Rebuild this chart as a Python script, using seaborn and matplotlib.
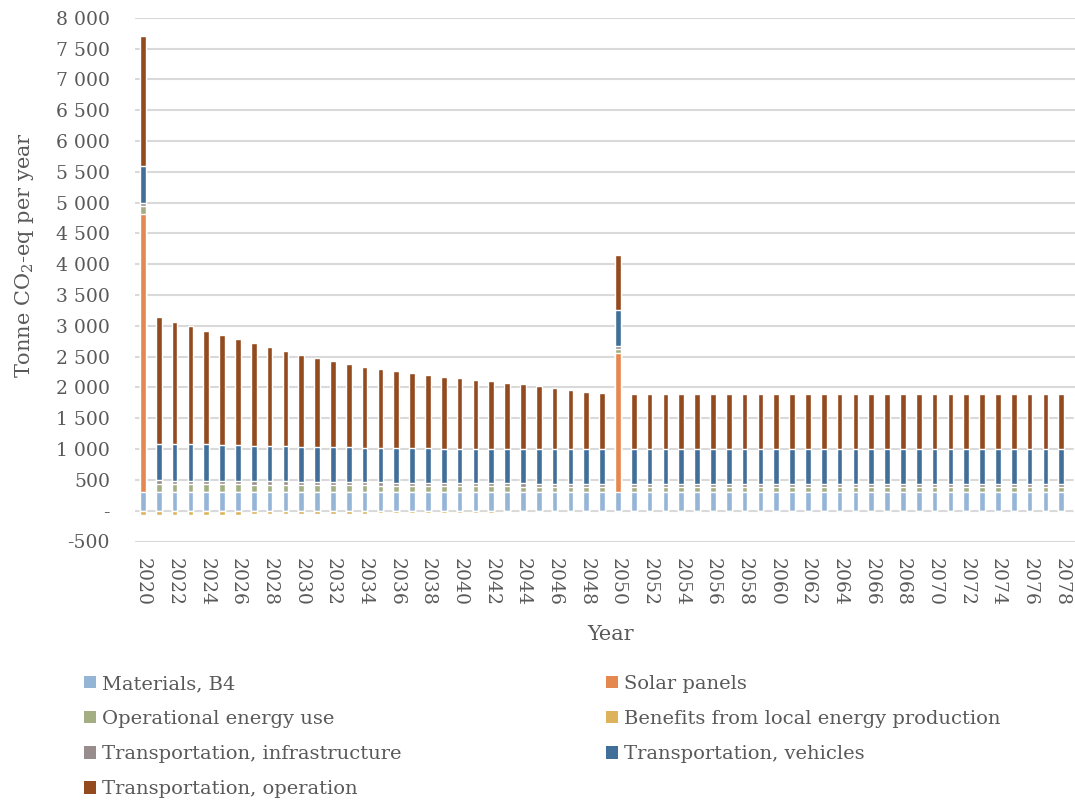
"""
Annual emissions per contributor, 2020-2079
Stacked bar chart
"""

import numpy as np
import pandas as pd

import matplotlib
matplotlib.use("Agg")
import matplotlib.pyplot as plt
from matplotlib.patches import Patch
from matplotlib.ticker import FuncFormatter
import seaborn as sns

##########################################################
# Data
##########################################################

years = list(range(2020, 2080))

materials_b4 = [305] * 60

solar_panels = (
    [4515]
    + [0] * 29
    + [2255]
    + [0] * 29
)

operational_energy = (
    [130]
    + [130, 128, 126, 124, 122, 120, 118, 116, 114, 112,
       110, 108, 106, 104, 102, 100, 98, 96, 94, 92,
       90, 89, 88, 87, 86, 85, 84, 82, 80]
    + [70]
    + [75] * 29
)

local_energy_benefits = (
    [-70]
    + [-70, -70, -68, -66, -64, -62, -60, -58, -56, -54,
       -52, -50, -48, -46, -44, -42, -40, -38, -36, -34,
       -32, -30, -28, -26, -24, -22, -20, -18, -16]
    + [-12]
    + [-6] * 29
)

transport_infrastructure = (
    [50]
    + [55] * 15
    + [50] * 14
    + [50]
    + [45] * 29
)

transport_vehicles = (
    [600]
    + [600, 597, 594, 591, 586, 582, 578, 574, 571, 568,
       566, 564, 562, 560, 558, 562, 561, 560, 559, 558,
       558, 557, 557, 557, 557, 558, 559, 561, 563]
    + [578]
    + [575] * 29
)

transport_operation = (
    [2110]
    + [2050, 1985, 1910, 1845, 1785, 1725, 1665, 1605, 1545, 1485,
       1440, 1396, 1352, 1306, 1277, 1248, 1218, 1189, 1159, 1145,
       1115, 1101, 1070, 1055, 1023, 991, 962, 935, 918]
    + [898]
    + [898] * 29
)

##########################################################
# Series setup (bottom to top)
##########################################################

stack_names = [
    "Materials, B4",
    "Solar panels",
    "Operational energy use",
    "Transportation, infrastructure",
    "Transportation, vehicles",
    "Transportation, operation",
]

stack_values = [
    materials_b4,
    solar_panels,
    operational_energy,
    transport_infrastructure,
    transport_vehicles,
    transport_operation,
]

colors = {
    "Materials, B4": "#95B5D6",
    "Solar panels": "#E5884F",
    "Operational energy use": "#A3AE83",
    "Benefits from local energy production": "#DCB25A",
    "Transportation, infrastructure": "#988D8D",
    "Transportation, vehicles": "#416F9A",
    "Transportation, operation": "#944A1F",
}

df = pd.DataFrame({"Year": [str(y) for y in years]})

cumulative = np.cumsum(np.array(stack_values), axis=0)

for name, cum in zip(stack_names, cumulative):
    df[name] = cum

df["Benefits from local energy production"] = local_energy_benefits

##########################################################
# Plot
##########################################################

sns.set_theme(style="white")

plt.rcParams["font.family"] = ["DejaVu Serif"]
plt.rcParams["mathtext.fontset"] = "dejavuserif"

text_color = "#595959"

fig = plt.figure(figsize=(10.75, 8.02), dpi=100)

ax = fig.add_axes([135 / 1075, 1 - 541.5 / 802, 950 / 1075, (541.5 - 17.7) / 802])

# draw cumulative totals from the top layer down so each one covers the next
for name in reversed(stack_names):

    sns.barplot(
        data=df,
        x="Year",
        y=name,
        color=colors[name],
        saturation=1,
        width=0.36,
        ax=ax,
        zorder=3,
    )

sns.barplot(
    data=df,
    x="Year",
    y="Benefits from local energy production",
    color=colors["Benefits from local energy production"],
    saturation=1,
    width=0.36,
    ax=ax,
    zorder=3,
)

##########################################################
# Axes styling
##########################################################

ax.set_xlim(-0.5, 59.5)
ax.set_ylim(-500, 8000)

ax.set_yticks(range(-500, 8001, 500))

ax.yaxis.set_major_formatter(
    FuncFormatter(
        lambda v, p: "-" if v == 0 else f"{v:,.0f}".replace(",", " ")
    )
)

ax.set_xticks(range(0, 60, 2))
ax.set_xticklabels([str(y) for y in years[::2]], rotation=270, va="top", ha="center")

ax.grid(axis="y", color="#D9D9D9", linewidth=1.5, zorder=0)
ax.set_axisbelow(True)

for spine in ax.spines.values():
    spine.set_visible(False)

ax.tick_params(axis="y", length=0, pad=18, labelsize=13.5, labelcolor=text_color)
ax.tick_params(axis="x", length=0, pad=12, labelsize=13.5, labelcolor=text_color)

ax.set_xlabel("")
ax.set_ylabel("")

fig.text(
    25 / 1075,
    1 - 255 / 802,
    "Tonne CO$_2$-eq per year",
    rotation=90,
    ha="center",
    va="center",
    fontsize=15,
    color=text_color,
)

fig.text(
    611 / 1075,
    1 - 635 / 802,
    "Year",
    ha="center",
    va="center",
    fontsize=15,
    color=text_color,
)

##########################################################
# Legend (two columns, filled row by row)
##########################################################

left_names = [
    "Materials, B4",
    "Operational energy use",
    "Transportation, infrastructure",
    "Transportation, operation",
]

right_names = [
    "Solar panels",
    "Benefits from local energy production",
    "Transportation, vehicles",
]

for names, x_pos in [(left_names, 84 / 1075), (right_names, 606 / 1075)]:

    handles = [Patch(facecolor=colors[n], edgecolor="none") for n in names]

    fig.legend(
        handles,
        names,
        loc="upper left",
        bbox_to_anchor=(x_pos, 1 - 675 / 802),
        frameon=False,
        fontsize=14,
        labelcolor=text_color,
        handlelength=0.6,
        handleheight=0.6,
        handletextpad=0.35,
        labelspacing=0.88,
        borderpad=0,
        borderaxespad=0,
    )

fig.savefig("out.png", dpi=100)

print("Saved out.png")
